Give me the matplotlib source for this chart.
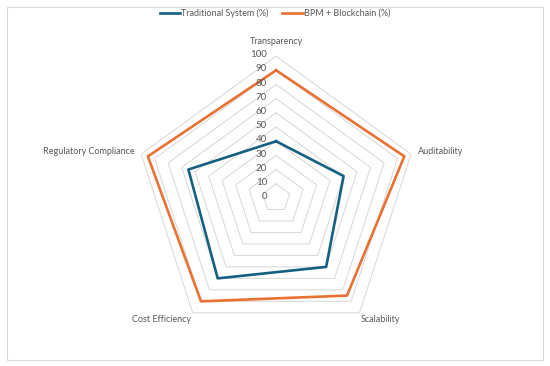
import numpy as np
import matplotlib
matplotlib.use("Agg")
import matplotlib.pyplot as plt
from matplotlib.patches import Rectangle
from matplotlib.lines import Line2D
import matplotlib.transforms as mtransforms

plt.rcParams['font.family'] = ['Lato', 'DejaVu Sans']

categories = ['Transparency', 'Auditability', 'Scalability', 'Cost Efficiency', 'Regulatory Compliance']
traditional = [40, 50, 60, 70, 65]
bpm_blockchain = [90, 95, 85, 90, 95]
series_names = ['Traditional System (%)', 'BPM + Blockchain (%)']
levels = [0, 10, 20, 30, 40, 50, 60, 70, 80, 90, 100]

BLUE = '#156082'
ORANGE = '#E97132'
GRID = '#D9D9D9'
TEXT = '#595959'

n = len(categories)
angles = np.arange(n) * 2 * np.pi / n
closed = np.append(angles, angles[0])

fig = plt.figure(figsize=(5.5, 3.66), dpi=100)
ax = fig.add_axes([0.244, 0.071, 0.516, 0.776], projection='polar')
ax.set_theta_offset(np.pi / 2)
ax.set_theta_direction(-1)
ax.set_ylim(0, 100)
ax.grid(False)
ax.spines['polar'].set_visible(False)
ax.set_xticks([])
ax.set_yticks([])
ax.patch.set_alpha(0)

# pentagon gridlines
for lv in levels[1:]:
    ax.plot(closed, [lv] * (n + 1), color=GRID, lw=0.75, zorder=1)

ax.plot(closed, traditional + traditional[:1], color=BLUE, lw=1.9, zorder=3)
ax.plot(closed, bpm_blockchain + bpm_blockchain[:1], color=ORANGE, lw=1.9, zorder=3)

# value labels on the top axis
tick_tr = mtransforms.offset_copy(ax.transData, fig=fig, x=-6.5, y=1.0, units='points')
for lv in levels:
    ax.text(0, lv, str(lv), transform=tick_tr, ha='right', va='center',
            fontsize=7, color=TEXT)

# category labels
label_pos = [
    (110, 'center', 'center'),
    (105, 'left', 'center'),
    (102, 'left', 'top'),
    (102, 'right', 'top'),
    (105, 'right', 'center'),
]
for ang, cat, (r, ha, va) in zip(angles, categories, label_pos):
    ax.text(ang, r, cat, ha=ha, va=va, fontsize=6.5, color=TEXT)

handles = [Line2D([], [], color=BLUE, lw=1.9), Line2D([], [], color=ORANGE, lw=1.9)]
fig.legend(handles, series_names, loc='upper center', bbox_to_anchor=(0.5, 1.0),
           ncol=2, frameon=False, fontsize=6.5, labelcolor=TEXT,
           handlelength=2.3, handletextpad=0.1, columnspacing=1.5)

fig.patches.append(Rectangle((7 / 550, 6 / 366), 536 / 550, 353 / 366,
                             transform=fig.transFigure, fill=False,
                             edgecolor=GRID, lw=0.8))

fig.savefig('out.png', dpi=100)
